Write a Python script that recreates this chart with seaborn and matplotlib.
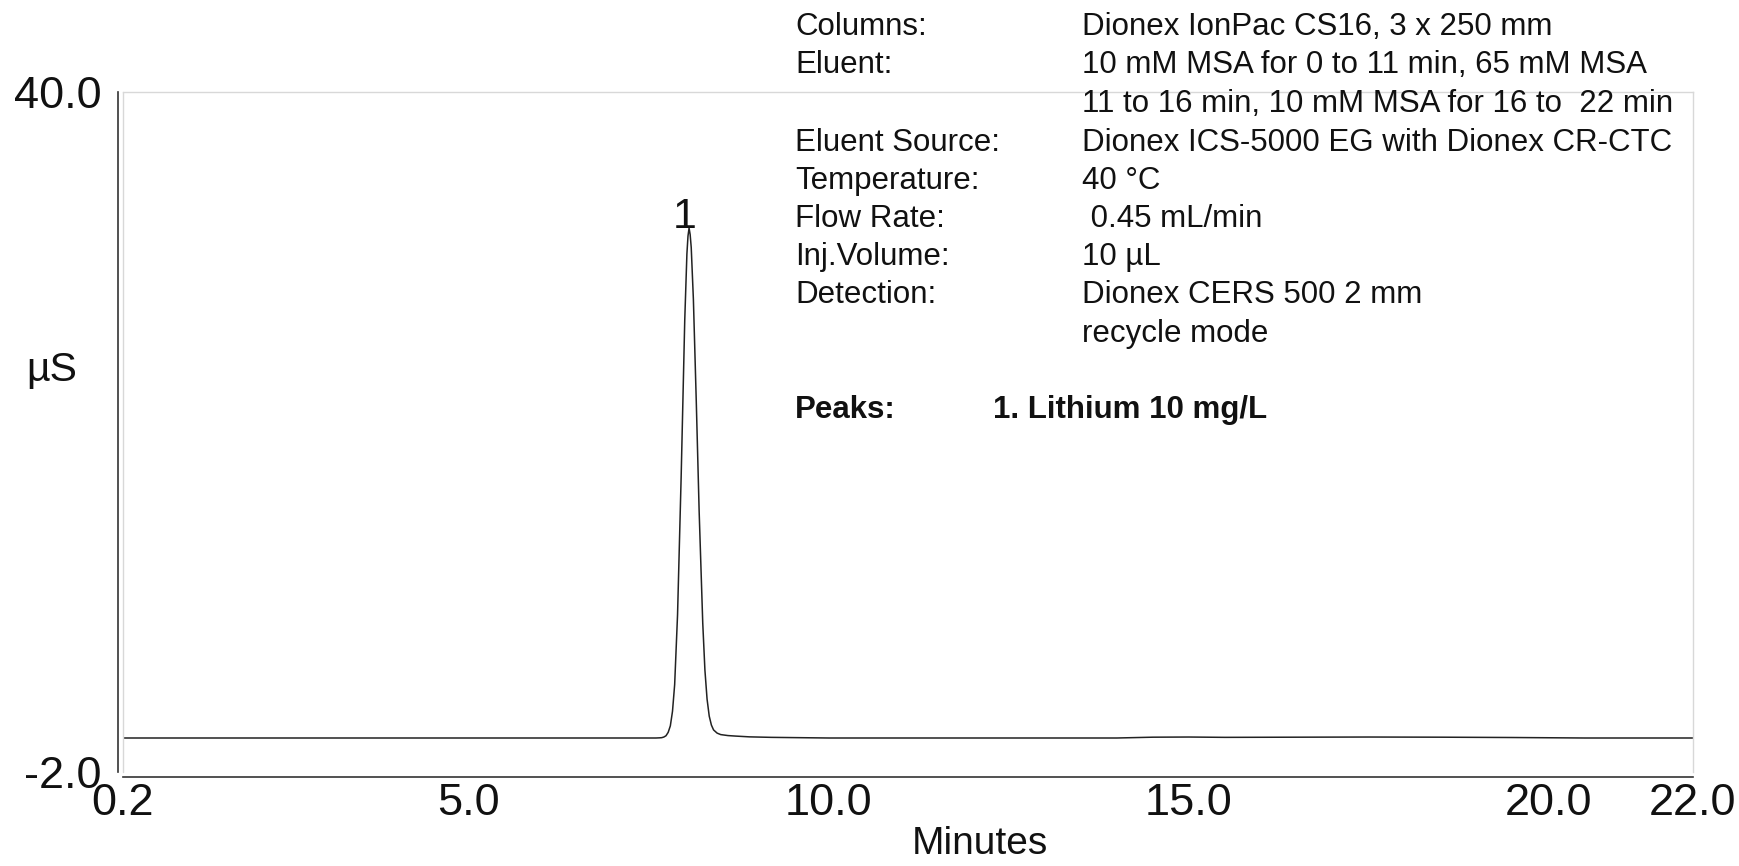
import matplotlib
matplotlib.use("Agg")
import matplotlib.pyplot as plt
import seaborn as sns
import pandas as pd

# Chromatogram trace: retention time (min) and conductivity (µS)
time_min = [0.2, 2.0, 4.0, 6.0, 7.0, 7.5, 7.6, 7.65, 7.68, 7.71, 7.74, 7.77,
            7.8, 7.83, 7.86, 7.9, 7.95, 8.0, 8.03, 8.045, 8.06, 8.075, 8.09,
            8.12, 8.16, 8.2, 8.25, 8.28, 8.31, 8.34, 8.37, 8.4, 8.45, 8.5,
            8.6, 8.7, 8.9, 9.2, 10.0, 12.0, 14.0, 14.5, 15.0, 15.5, 16.5,
            17.5, 18.5, 19.5, 20.5, 22.0]
signal_us = [0.10, 0.10, 0.10, 0.10, 0.10, 0.10, 0.10, 0.11, 0.12, 0.16, 0.24,
             0.45, 0.85, 1.75, 3.4, 7.7, 16.2, 25.9, 30.0, 31.1, 31.6, 31.2,
             30.4, 27.2, 20.9, 14.1, 7.2, 4.3, 2.5, 1.45, 0.9, 0.60, 0.40,
             0.31, 0.25, 0.22, 0.17, 0.14, 0.10, 0.10, 0.10, 0.15, 0.16, 0.14,
             0.15, 0.16, 0.15, 0.13, 0.10, 0.10]

peak_labels = ["1"]
peak_times = [8.06]
peak_heights = [31.6]

x_ticks = [0.2, 5.0, 10.0, 15.0, 20.0, 22.0]
x_tick_labels = ["0.2", "5.0", "10.0", "15.0", "20.0", "22.0"]
y_ticks = [-2.0, 0.0, 40.0]
y_tick_labels = ["-2.0", "", "40.0"]

cond_names = ["Columns:", "Eluent:", "", "Eluent Source:", "Temperature:",
              "Flow Rate:", "Inj.Volume:", "Detection:", ""]
cond_values = ["Dionex IonPac CS16, 3 x 250 mm",
               "10 mM MSA for 0 to 11 min, 65 mM MSA",
               "11 to 16 min, 10 mM MSA for 16 to  22 min",
               "Dionex ICS-5000 EG with Dionex CR-CTC",
               "40 \u00b0C",
               " 0.45 mL/min",
               "10 \u00b5L",
               "Dionex CERS 500 2 mm",
               "recycle mode"]
peaks_title = "Peaks:"
peaks_text = "1. Lithium 10 mg/L"

sns.set_theme(style="white")
plt.rcParams["font.family"] = ["Liberation Sans", "DejaVu Sans"]

W, H = 1740, 866
fig = plt.figure(figsize=(W / 100, H / 100), dpi=100)
# axes box in pixels: left 123, right 1693, top 92, bottom 772
ax = fig.add_axes([123 / W, 1 - 772 / H, (1693 - 123) / W, (772 - 92) / H])

df = pd.DataFrame({"Minutes": time_min, "uS": signal_us})
sns.lineplot(data=df, x="Minutes", y="uS", ax=ax, color="#222222",
             linewidth=1.1, estimator=None, sort=False)

ax.set_xlim(0.2, 22.0)
ax.set_ylim(-2.0, 40.0)

for lab, t, h in zip(peak_labels, peak_times, peak_heights):
    ax.text(t - 0.06, h, lab, ha="center", va="baseline", fontsize=31,
            color="#111111")

# frame: dark offset axes on left/bottom, faint box elsewhere
for side in ("top", "right"):
    ax.spines[side].set_color("#d8d8d8")
    ax.spines[side].set_linewidth(1.0)
for side in ("left", "bottom"):
    ax.spines[side].set_color("#333333")
    ax.spines[side].set_linewidth(1.2)
    ax.spines[side].set_position(("outward", 3.6))
ax.plot([0, 0], [0, 1.0], transform=ax.transAxes, color="#d8d8d8", lw=1.0,
        clip_on=False)

ax.set_xticks(x_ticks)
ax.set_xticklabels(x_tick_labels)
ax.set_yticks(y_ticks)
ax.set_yticklabels(y_tick_labels)
ax.tick_params(axis="both", which="major", direction="out", length=3.6,
               width=1.0, color="#333333", labelsize=32.5, labelcolor="#111111")
ax.tick_params(axis="x", pad=0.5)
ax.tick_params(axis="y", pad=8.5)
ax.grid(False)

ax.set_xlabel("Minutes", fontsize=28, color="#111111")
ax.xaxis.set_label_coords((980 - 123) / 1570, (772 - 844) / 680)
ax.xaxis.label.set_verticalalignment("center")
ax.set_ylabel("\u00b5S", fontsize=29.5, rotation=0, color="#111111")
ax.yaxis.set_label_coords((52 - 123) / 1570, (772 - 370) / 680)
ax.yaxis.label.set_verticalalignment("center")
ax.yaxis.label.set_horizontalalignment("center")

# conditions block
baselines = [35, 73, 112, 151, 189, 227, 265, 303, 342]
for name, val, yb in zip(cond_names, cond_values, baselines):
    if name:
        fig.text(795 / W, 1 - yb / H, name, fontsize=22.5, ha="left",
                 va="baseline", color="#111111")
    fig.text(1082 / W, 1 - yb / H, val, fontsize=22.5, ha="left",
             va="baseline", color="#111111")
fig.text(795 / W, 1 - 418 / H, peaks_title, fontsize=22.5, fontweight="bold",
         ha="left", va="baseline", color="#111111")
fig.text(993 / W, 1 - 418 / H, peaks_text, fontsize=22.5, fontweight="bold",
         ha="left", va="baseline", color="#111111")

fig.savefig("out.png", dpi=100)
